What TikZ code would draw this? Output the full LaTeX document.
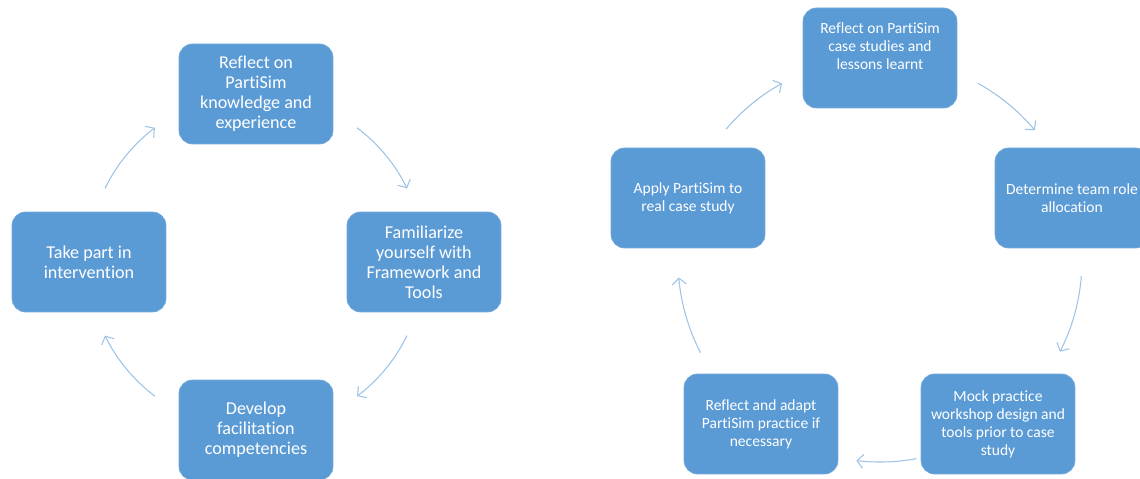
\documentclass[tikz,border=0pt]{standalone}
\usepackage{fontspec}
\setmainfont{Carlito}[Ligatures=NoCommon]
\usetikzlibrary{arrows.meta,positioning}
\definecolor{boxblue}{HTML}{5B9BD5}
\definecolor{arrowblue}{HTML}{9DC3E6}

\begin{document}
\begin{tikzpicture}[x=0.02cm,y=0.02cm,
    box/.style={rectangle,rounded corners=0.27cm,fill=boxblue,draw=boxblue!85!white,line width=0.4pt,
        text=white,align=center,minimum width=3.08cm,minimum height=2cm,inner sep=2pt},
    bigtxt/.style={font=\fontsize{10.3}{11.4}\selectfont},
    smalltxt/.style={font=\fontsize{8.85}{10.2}\selectfont},
    flow/.style={draw=arrowblue,line width=0.6pt,-{Straight Barb[length=3.5pt,width=8pt]}}]
    \path[use as bounding box,clip] (0,0) rectangle (1140,479);

    % left cycle
    \coordinate (cL) at (256,217);
    \node[box,bigtxt] at (256,385) (l1) {Reflect on\\PartiSim\\knowledge and\\experience};
    \node[box,bigtxt] at (424,217) (l2) {Familiarize\\yourself with\\Framework and\\Tools};
    \node[box,bigtxt] at (256,49) (l3) {Develop\\facilitation\\competencies};
    \node[box,bigtxt] at (89,217) (l4) {Take part in\\intervention};
    \draw[flow] ([shift={(53:168)}]cL) arc[start angle=53,end angle=26,radius=168];
    \draw[flow] ([shift={(-26:168)}]cL) arc[start angle=-26,end angle=-53,radius=168];
    \draw[flow] ([shift={(-127:168)}]cL) arc[start angle=-127,end angle=-154,radius=168];
    \draw[flow] ([shift={(154:168)}]cL) arc[start angle=154,end angle=127,radius=168];

    % right cycle
    \coordinate (cR) at (880,219);
    \node[box,smalltxt] at (880,421) (r1) {Reflect on PartiSim\\case studies and\\lessons learnt\\[3pt]~};
    \node[box,smalltxt] at (1072,281) (r2) {Determine team role\\allocation};
    \node[box,smalltxt] at (998,55) (r3) {Mock practice\\workshop design and\\tools prior to case\\study};
    \node[box,smalltxt] at (761,55) (r4) {Reflect and adapt\\PartiSim practice if\\necessary};
    \node[box,smalltxt] at (688,281) (r5) {Apply PartiSim to\\real case study};
    \draw[flow] ([shift={(61:202)}]cR) arc[start angle=61,end angle=40,radius=202];
    \draw[flow] ([shift={(-4.5:202)}]cR) arc[start angle=-4.5,end angle=-27,radius=202];
    \draw[flow] ([shift={(-79.6:202)}]cR) arc[start angle=-79.6,end angle=-96.7,radius=202];
    \draw[flow] ([shift={(-152.7:202)}]cR) arc[start angle=-152.7,end angle=-175,radius=202];
    \draw[flow] ([shift={(139.6:202)}]cR) arc[start angle=139.6,end angle=119,radius=202];
\end{tikzpicture}
\end{document}
